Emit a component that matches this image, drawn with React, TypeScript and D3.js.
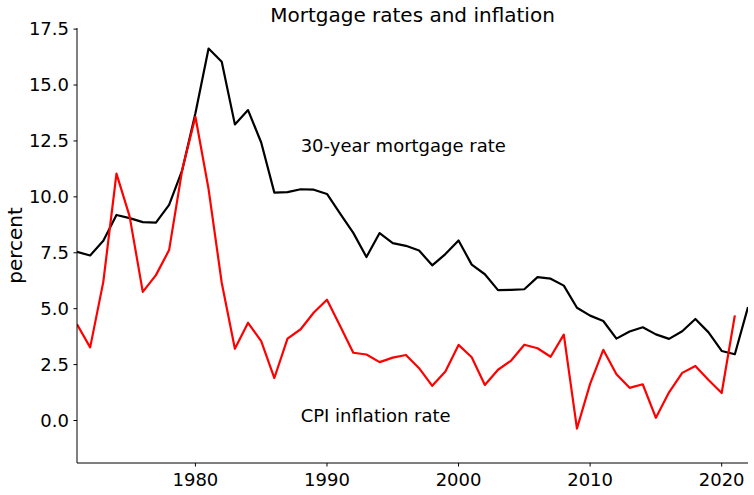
import React from "react";
import * as d3 from "d3";

const years: number[] = d3.range(1971, 2023);
const mortgageRate: number[] = [
  7.54, 7.38, 8.04, 9.19, 9.05, 8.87, 8.85, 9.64, 11.2, 13.74,
  16.63, 16.04, 13.24, 13.88, 12.43, 10.19, 10.21, 10.34, 10.32, 10.13,
  9.25, 8.39, 7.31, 8.38, 7.93, 7.81, 7.6, 6.94, 7.44, 8.05,
  6.97, 6.54, 5.83, 5.84, 5.87, 6.41, 6.34, 6.03, 5.04, 4.69,
  4.45, 3.66, 3.98, 4.17, 3.85, 3.65, 3.99, 4.54, 3.94, 3.11,
  2.96, 5.07,
];
const cpiInflation: number[] = [
  4.3, 3.27, 6.2, 11.04, 9.13, 5.75, 6.5, 7.62, 11.22, 13.58,
  10.35, 6.16, 3.21, 4.37, 3.55, 1.9, 3.66, 4.08, 4.83, 5.4,
  4.23, 3.03, 2.95, 2.61, 2.81, 2.93, 2.34, 1.55, 2.19, 3.38,
  2.83, 1.59, 2.27, 2.68, 3.39, 3.23, 2.85, 3.84, -0.36, 1.64,
  3.16, 2.07, 1.46, 1.62, 0.12, 1.26, 2.13, 2.44, 1.81, 1.23,
  4.7,
];
const xTicks: number[] = [1980, 1990, 2000, 2010, 2020];
const yTicks: number[] = [0, 2.5, 5, 7.5, 10, 12.5, 15, 17.5];

const W = 754;
const H = 495;
const left = 77;
const right = 748;
const top = 28;
const bottom = 463;
const font = "DejaVu Sans, sans-serif";

export default function App() {
  const x = d3.scaleLinear().domain([1971, 2022]).range([left, right]);
  const y = d3.scaleLinear().domain([-1.9, 17.55]).range([bottom, top]);
  const line = d3
    .line<[number, number]>()
    .x((d) => x(d[0]))
    .y((d) => y(d[1]));
  const mPts: [number, number][] = years.map((yr, i) => [yr, mortgageRate[i]]);
  const cPts: [number, number][] = cpiInflation.map((v, i) => [years[i], v]);

  return (
    <svg
      width={W}
      height={H}
      style={{ position: "absolute", left: 0, top: 0, background: "#fff" }}
      fontFamily={font}
    >
      <rect x={0} y={0} width={W} height={H} fill="#fff" />
      <defs>
        <clipPath id="plot">
          <rect x={left} y={top} width={right - left} height={bottom - top} />
        </clipPath>
      </defs>
      <g clipPath="url(#plot)" fill="none" strokeWidth={2.2} strokeLinejoin="round">
        <path d={line(mPts) || ""} stroke="#000" />
        <path d={line(cPts) || ""} stroke="#ff0000" />
      </g>
      <line x1={left} x2={left} y1={top} y2={bottom} stroke="#000" strokeWidth={1} />
      <line x1={left} x2={right} y1={bottom} y2={bottom} stroke="#000" strokeWidth={1} />
      {xTicks.map((t) => (
        <g key={t}>
          <line x1={x(t)} x2={x(t)} y1={bottom} y2={bottom + 3.5} stroke="#000" />
          <text x={x(t)} y={bottom + 23} textAnchor="middle" fontSize={18} fill="#000">
            {t}
          </text>
        </g>
      ))}
      {yTicks.map((t) => (
        <g key={t}>
          <line x1={left - 3.5} x2={left} y1={y(t)} y2={y(t)} stroke="#000" />
          <text x={left - 8} y={y(t)} dy="0.35em" textAnchor="end" fontSize={18} fill="#000">
            {t.toFixed(1)}
          </text>
        </g>
      ))}
      <text
        transform={`translate(22,${(top + bottom) / 2}) rotate(-90)`}
        textAnchor="middle"
        fontSize={20}
        fill="#000"
      >
        percent
      </text>
      <text x={(left + right) / 2} y={22} textAnchor="middle" fontSize={20} fill="#000">
        Mortgage rates and inflation
      </text>
      <text x={x(1988)} y={y(12.3)} dy="0.35em" fontSize={18} fill="#000">
        30-year mortgage rate
      </text>
      <text x={x(1988)} y={y(0.2)} dy="0.35em" fontSize={18} fill="#000">
        CPI inflation rate
      </text>
    </svg>
  );
}
